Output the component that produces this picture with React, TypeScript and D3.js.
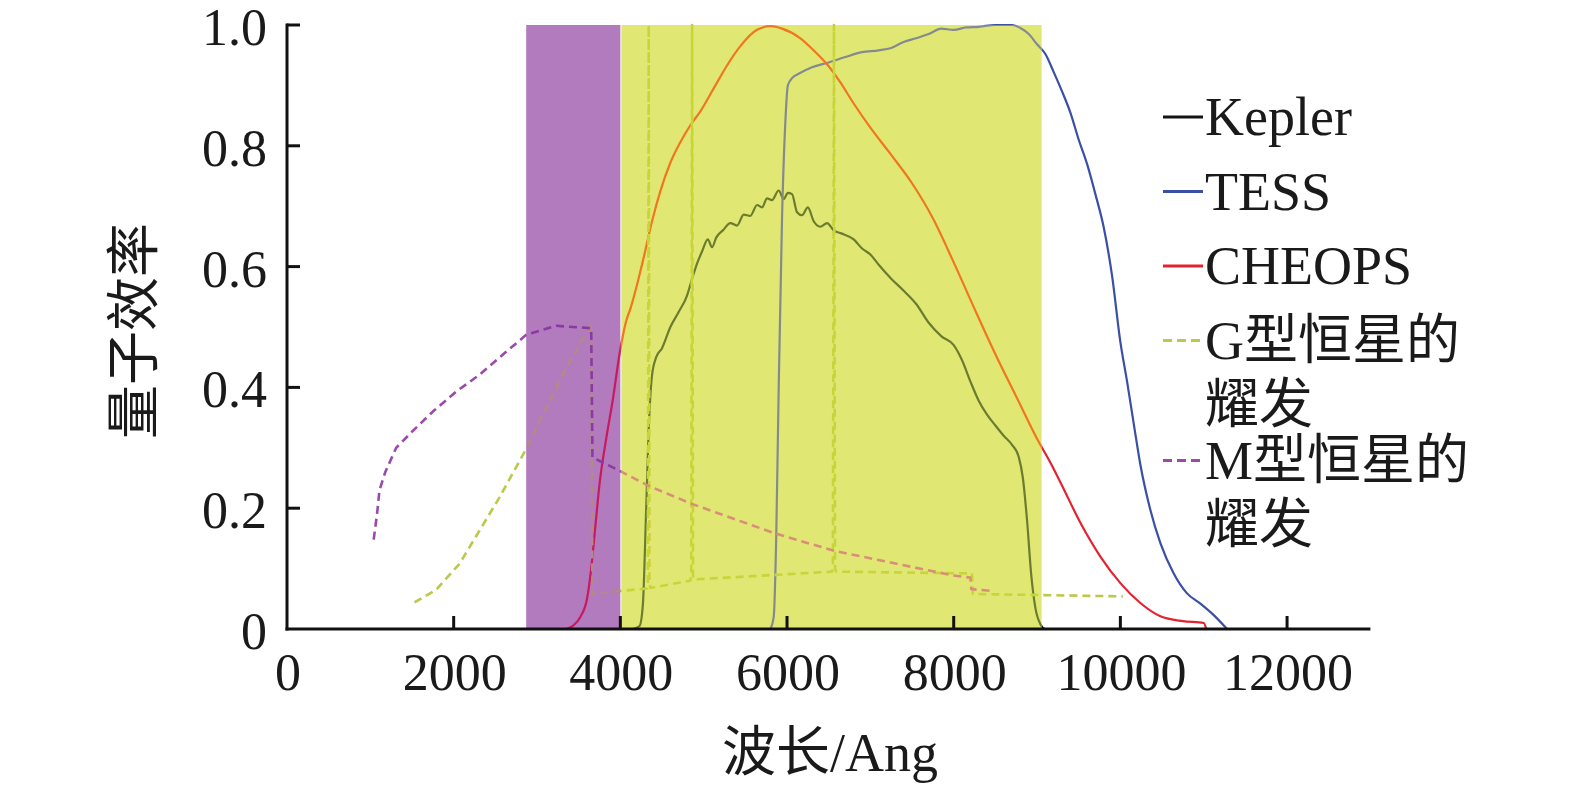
import { useEffect, useRef } from 'react'
import * as d3 from 'd3'

type Pt = [number, number]

// wavelength (Ang) / quantum efficiency
const KEPLER: Pt[] = [
  [4150, 0], [4230, 0.005], [4270, 0.04], [4310, 0.2], [4340, 0.33], [4380, 0.42], [4430, 0.45],
  [4500, 0.465], [4600, 0.5], [4700, 0.525], [4800, 0.552], [4850, 0.575], [4920, 0.605],
  [4980, 0.625], [5050, 0.645], [5100, 0.632], [5150, 0.648], [5230, 0.66], [5320, 0.672],
  [5400, 0.668], [5480, 0.686], [5560, 0.684], [5640, 0.702], [5700, 0.698], [5760, 0.713],
  [5820, 0.71], [5900, 0.726], [5960, 0.712], [6010, 0.722], [6060, 0.72], [6120, 0.69],
  [6180, 0.685], [6250, 0.698], [6320, 0.675], [6400, 0.666], [6480, 0.672], [6560, 0.66],
  [6650, 0.655], [6800, 0.645], [6900, 0.63], [7000, 0.62], [7100, 0.603], [7250, 0.58],
  [7400, 0.56], [7550, 0.538], [7700, 0.507], [7850, 0.485], [8000, 0.47], [8100, 0.445],
  [8200, 0.41], [8300, 0.378], [8400, 0.355], [8500, 0.337], [8600, 0.32], [8700, 0.305],
  [8780, 0.285], [8830, 0.25], [8880, 0.18], [8930, 0.09], [8980, 0.035], [9040, 0.008],
  [9100, 0], [9750, 0],
]

const TESS: Pt[] = [
  [5800, 0], [5840, 0.02], [5870, 0.15], [5900, 0.4], [5940, 0.68], [5980, 0.84], [6010, 0.9],
  [6060, 0.912], [6150, 0.92], [6300, 0.93], [6500, 0.938], [6700, 0.947], [6900, 0.955],
  [7100, 0.958], [7250, 0.962], [7400, 0.972], [7550, 0.978], [7700, 0.985], [7850, 0.994],
  [8000, 0.992], [8150, 0.996], [8300, 0.997], [8500, 1.0], [8700, 1.0], [8800, 0.995],
  [8900, 0.985], [9000, 0.968], [9100, 0.952], [9200, 0.922], [9300, 0.89], [9400, 0.855],
  [9500, 0.81], [9600, 0.77], [9700, 0.72], [9800, 0.665], [9900, 0.585], [10000, 0.475],
  [10080, 0.41], [10160, 0.34], [10240, 0.272], [10360, 0.197], [10480, 0.142], [10640, 0.092],
  [10800, 0.059], [10960, 0.042], [11120, 0.023], [11280, 0],
]

const CHEOPS: Pt[] = [
  [3350, 0], [3430, 0.005], [3520, 0.02], [3600, 0.05], [3650, 0.1], [3700, 0.17], [3750, 0.24],
  [3830, 0.315], [3910, 0.38], [3990, 0.455], [4070, 0.51], [4120, 0.53], [4200, 0.57],
  [4280, 0.615], [4380, 0.675], [4480, 0.725], [4600, 0.772], [4720, 0.806], [4840, 0.834],
  [4960, 0.857], [5120, 0.895], [5280, 0.933], [5440, 0.965], [5640, 0.992], [5800, 0.998],
  [5940, 0.994], [6160, 0.978], [6320, 0.958], [6480, 0.935], [6640, 0.905], [6800, 0.87],
  [7000, 0.83], [7250, 0.785], [7500, 0.738], [7750, 0.68], [8000, 0.607], [8250, 0.53],
  [8500, 0.455], [8750, 0.385], [9000, 0.315], [9150, 0.278], [9280, 0.243], [9520, 0.176],
  [9760, 0.12], [10000, 0.076], [10240, 0.043], [10480, 0.021], [10750, 0.013], [11000, 0.01],
  [11030, 0],
]

const G_FLARE: Pt[] = [
  [1530, 0.044], [1790, 0.065], [2070, 0.108], [2310, 0.163], [2550, 0.218], [2870, 0.298],
  [3110, 0.366], [3350, 0.432], [3650, 0.504], [3665, 0.058], [4000, 0.063], [4320, 0.067],
  [4330, 0.075], [4340, 1.0], [4350, 0.075], [4360, 0.068], [4840, 0.08], [4850, 0.09],
  [4861, 1.0], [4872, 0.09], [4880, 0.082], [6540, 0.095], [6550, 0.1], [6563, 1.0],
  [6576, 0.1], [6590, 0.095], [8220, 0.092], [8230, 0.058], [10030, 0.054],
]

const M_FLARE: Pt[] = [
  [1040, 0.148], [1080, 0.19], [1110, 0.23], [1180, 0.26], [1310, 0.3], [1510, 0.328],
  [1750, 0.36], [2030, 0.393], [2310, 0.421], [2630, 0.459], [2870, 0.487], [3230, 0.502],
  [3650, 0.498], [3665, 0.284], [3990, 0.262], [4340, 0.237], [4860, 0.207], [5860, 0.158],
  [6580, 0.129], [7980, 0.089], [8200, 0.085], [8210, 0.066], [8450, 0.063],
]

const PURPLE_BAND: [number, number] = [2870, 4000]
const YELLOW_BAND: [number, number] = [4012, 9055]

const X_TICKS = [0, 2000, 4000, 6000, 8000, 10000, 12000]
const Y_TICKS = [0, 0.2, 0.4, 0.6, 0.8, 1.0]

// colour of each series on white, under the purple band and under the yellow band
const SERIES = [
  { name: ['Kepler'], data: KEPLER, color: '#141414', purple: '#141414', yellow: '#6c7c2e', dash: null, smooth: true },
  { name: ['TESS'], data: TESS, color: '#3a4fa6', purple: '#3a4fa6', yellow: '#858a90', dash: null, smooth: true },
  { name: ['CHEOPS'], data: CHEOPS, color: '#e3232f', purple: '#c9195c', yellow: '#f0761f', dash: null, smooth: true },
  { name: ['G型恒星的', '耀发'], data: G_FLARE, color: '#bcc84a', purple: '#b38a86', yellow: '#c8d53a', dash: '8,5', smooth: false },
  { name: ['M型恒星的', '耀发'], data: M_FLARE, color: '#9a4aaa', purple: '#8a3aa0', yellow: '#d98e78', dash: '8,5', smooth: false },
]

const FONT = "'Liberation Serif', 'Times New Roman', 'Noto Sans CJK SC', serif"

export default function App() {
  const svgRef = useRef<SVGSVGElement>(null)

  useEffect(() => {
    document.body.style.margin = '0'
    if (!svgRef.current) return
    const width = 1575
    const height = 788

    const svg = d3.select(svgRef.current)
    svg.selectAll('*').remove()
    svg.attr('width', width).attr('height', height)

    const x = d3.scaleLinear().domain([0, 13000]).range([287, 1370.4])
    const y = d3.scaleLinear().domain([0, 1]).range([629, 25])

    const straight = d3.line<Pt>().x(d => x(d[0])).y(d => y(d[1]))
    const smooth = d3.line<Pt>().x(d => x(d[0])).y(d => y(d[1])).curve(d3.curveMonotoneX)

    const defs = svg.append('defs')
    const bands = [
      { id: 'clip-purple', span: PURPLE_BAND, fill: '#b27bbd', key: 'purple' as const },
      { id: 'clip-yellow', span: YELLOW_BAND, fill: '#e0e873', key: 'yellow' as const },
    ]
    bands.forEach(b => {
      defs.append('clipPath').attr('id', b.id)
        .append('rect')
        .attr('x', x(b.span[0])).attr('y', y(1))
        .attr('width', x(b.span[1]) - x(b.span[0])).attr('height', y(0) - y(1))
    })

    const drawLines = (g: d3.Selection<SVGGElement, unknown, null, undefined>, key: 'color' | 'purple' | 'yellow') => {
      SERIES.forEach(s => {
        g.append('path')
          .attr('d', (s.smooth ? smooth : straight)(s.data))
          .attr('fill', 'none')
          .attr('stroke', s[key])
          .attr('stroke-width', s.dash ? 2.6 : 2.2)
          .attr('stroke-dasharray', s.dash ?? null)
          .attr('stroke-linejoin', 'round')
      })
    }

    // Lines on white
    drawLines(svg.append('g'), 'color')

    // Bands on top
    bands.forEach(b => {
      svg.append('rect')
        .attr('x', x(b.span[0])).attr('y', y(1))
        .attr('width', x(b.span[1]) - x(b.span[0])).attr('height', y(0) - y(1))
        .attr('fill', b.fill)
    })

    // Lines seen through the bands
    bands.forEach(b => {
      drawLines(svg.append('g').attr('clip-path', `url(#${b.id})`), b.key)
    })

    // Axes
    const axis = svg.append('g').attr('stroke', '#111').attr('stroke-width', 3)
    axis.append('line').attr('x1', x(0)).attr('x2', x(0)).attr('y1', y(1) - 1.5).attr('y2', y(0) + 1.5)
    axis.append('line').attr('x1', x(0) - 1.5).attr('x2', x(13000)).attr('y1', y(0)).attr('y2', y(0))
    X_TICKS.filter(t => t > 0).forEach(t => {
      axis.append('line').attr('x1', x(t)).attr('x2', x(t)).attr('y1', y(0)).attr('y2', y(0) - 13)
    })
    Y_TICKS.filter(t => t > 0).forEach(t => {
      axis.append('line').attr('x1', x(0)).attr('x2', x(0) + 13).attr('y1', y(t)).attr('y2', y(t))
    })

    const labels = svg.append('g').attr('font-family', FONT).attr('fill', '#1a1a1a')
    labels.selectAll('text.xt')
      .data(X_TICKS)
      .enter().append('text')
      .attr('x', d => x(d) + 1)
      .attr('y', 690)
      .attr('text-anchor', 'middle')
      .attr('font-size', 52)
      .text(d => String(d))

    labels.selectAll('text.yt')
      .data(Y_TICKS)
      .enter().append('text')
      .attr('x', 267)
      .attr('y', d => y(d) + 20)
      .attr('text-anchor', 'end')
      .attr('font-size', 52)
      .text(d => (d === 0 ? '0' : d.toFixed(1)))

    // Axis titles
    labels.append('text')
      .attr('x', 830)
      .attr('y', 771)
      .attr('text-anchor', 'middle')
      .attr('font-size', 54)
      .text('波长/Ang')

    labels.append('text')
      .attr('transform', 'translate(153, 331) rotate(-90)')
      .attr('text-anchor', 'middle')
      .attr('font-size', 54)
      .text('量子效率')

    // Legend
    const legend = svg.append('g').attr('font-family', FONT)
    let cy = 117
    SERIES.forEach(s => {
      legend.append('line')
        .attr('x1', 1163).attr('x2', 1203)
        .attr('y1', cy).attr('y2', cy)
        .attr('stroke', s.color)
        .attr('stroke-width', 3)
        .attr('stroke-dasharray', s.dash ? '9,5' : null)
      s.name.forEach((t, i) => {
        legend.append('text')
          .attr('x', 1205)
          .attr('y', cy + i * 64 + 18)
          .attr('font-size', 54)
          .attr('fill', '#1a1a1a')
          .text(t)
      })
      cy += s.name.length > 1 ? 120 : 74.5
    })
  }, [])

  return <svg ref={svgRef} style={{ display: 'block' }} />
}
